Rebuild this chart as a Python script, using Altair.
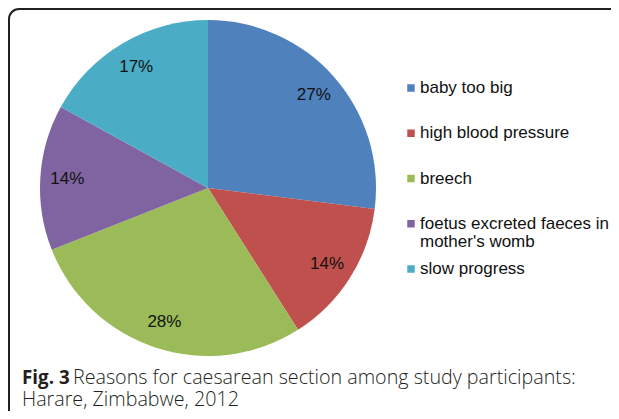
import altair as alt
import pandas as pd

categories = ["baby too big", "high blood pressure", "breech",
              "foetus excreted faeces in mother's womb", "slow progress"]
legend_labels = ["baby too big", "high blood pressure", "breech",
                 "foetus excreted faeces in\nmother's womb", "slow progress"]
percent = [27, 14, 28, 14, 17]
pct_labels = ["27%", "14%", "28%", "14%", "17%"]
colors = ["#4F81BD", "#C0504D", "#9BBB59", "#8064A2", "#4BACC6"]

caption_bold = "Fig. 3"
caption_line1 = "Reasons for caesarean section among study participants:"
caption_line2 = "Harare, Zimbabwe, 2012"

df = pd.DataFrame({
    "category": categories,
    "value": percent,
    "label": pct_labels,
    "legend": legend_labels,
    "order": list(range(len(categories))),
})

color_scale = alt.Scale(domain=categories, range=colors)
CX, CY = 200, 180
FRAME = "#231f20"
one = alt.Data(values=[{"a": 1}])

frame_top = alt.Chart(one).mark_rule(color=FRAME, strokeWidth=2).encode(
    x=alt.value(11), x2=alt.value(700), y=alt.value(1))
frame_left = alt.Chart(one).mark_rule(color=FRAME, strokeWidth=2).encode(
    x=alt.value(1), y=alt.value(11), y2=alt.value(500))
frame_corner = alt.Chart(one).mark_arc(
    innerRadius=9, outerRadius=11, color=FRAME
).encode(x=alt.value(11), y=alt.value(11),
         theta=alt.value(4.7124), theta2=alt.value(6.2832))

base = alt.Chart(df).encode(
    theta=alt.Theta("value:Q", stack=True),
    order=alt.Order("order:Q"),
    x=alt.value(CX), y=alt.value(CY),
)

pie = base.mark_arc(radius=168).encode(
    color=alt.Color("category:N", scale=color_scale, legend=None)
)

pct = base.mark_text(radius=141, font="Liberation Sans", fontSize=17,
                     color="#111111").encode(text="label:N")

leg_y = alt.Y("category:N", sort=categories,
              scale=alt.Scale(type="point", range=[80, 261], padding=0),
              axis=None)

leg_sq = alt.Chart(df).mark_square(size=56, opacity=1).encode(
    x=alt.value(403), y=leg_y,
    color=alt.Color("category:N", scale=color_scale, legend=None),
)

leg_txt = alt.Chart(df).mark_text(
    align="left", baseline="alphabetic", dy=5, lineBreak="\n", lineHeight=18,
    font="Liberation Sans", fontSize=17, color="#111111"
).encode(x=alt.value(412), y=leg_y, text="legend:N")

cap1 = alt.Chart(alt.Data(values=[{"t": caption_bold}])).mark_text(
    align="left", baseline="alphabetic", font="Open Sans", fontSize=18.8,
    fontWeight="bold", color="#231f20"
).encode(x=alt.value(14), y=alt.value(376), text="t:N")
cap2 = alt.Chart(alt.Data(values=[{"t": caption_line1}])).mark_text(
    align="left", baseline="alphabetic", font="Open Sans", fontSize=19.7,
    fontWeight=300, color="#231f20"
).encode(x=alt.value(65), y=alt.value(376), text="t:N")
cap3 = alt.Chart(alt.Data(values=[{"t": caption_line2}])).mark_text(
    align="left", baseline="alphabetic", font="Open Sans", fontSize=19.7,
    fontWeight=300, color="#231f20"
).encode(x=alt.value(14), y=alt.value(398), text="t:N")

chart = alt.layer(frame_top, frame_left, frame_corner, pie, pct, leg_sq,
                  leg_txt, cap1, cap2, cap3).properties(
    width=603, height=403,
    autosize=alt.AutoSizeParams(type="none"),
    padding=0,
).configure_view(stroke=None)

chart.save("out.html", embed_options={"renderer": "svg", "actions": False})
